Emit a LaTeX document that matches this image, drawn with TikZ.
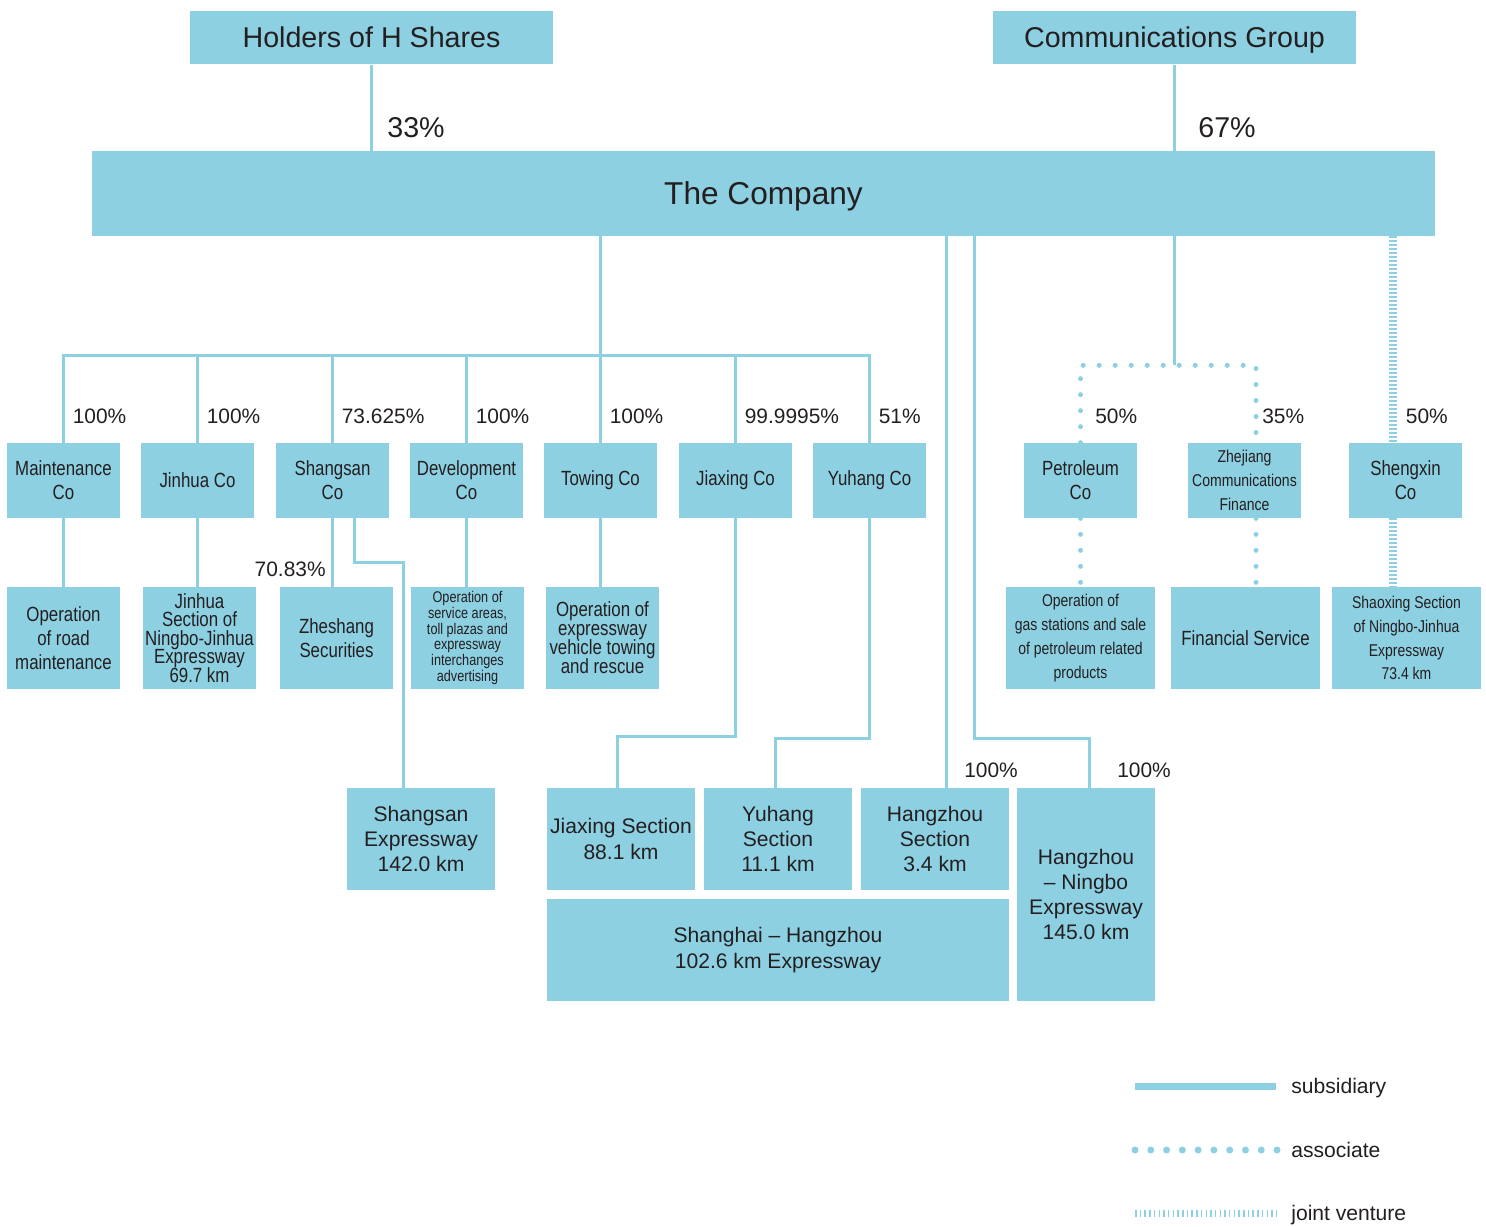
\documentclass[tikz,border=0pt]{standalone}
\usepackage{fontspec}
\setmainfont{Liberation Sans}
\newfontfamily\narrowfont[FakeStretch=0.82]{Liberation Sans}
\usetikzlibrary{calc}
\lineskiplimit=-100pt
\definecolor{boxblue}{RGB}{141,208,226}
\definecolor{inkgray}{RGB}{35,31,32}
\tikzstyle{box}=[rectangle,fill=boxblue,inner sep=0pt,align=center,text=inkgray]
\tikzstyle{topbox}=[box,minimum width=7.26cm,minimum height=1.08cm,text height=11.7pt,text depth=0pt,font=\fontsize{16.3}{19}\selectfont]
\tikzstyle{cobox}=[box,minimum width=2.26cm,minimum height=1.5cm,font=\narrowfont\fontsize{11.7}{13.6}\selectfont]
\tikzstyle{opbox}=[box,minimum width=2.26cm,minimum height=2.04cm,font=\narrowfont\fontsize{11.7}{13.6}\selectfont]
\tikzstyle{widebox}=[box,minimum width=2.98cm,minimum height=2.04cm,font=\narrowfont\fontsize{9.7}{13.6}\selectfont]
\tikzstyle{roadbox}=[box,minimum width=2.96cm,minimum height=2.04cm,font=\fontsize{12}{14.3}\selectfont]
\tikzstyle{share}=[anchor=west,inner sep=0pt,text=inkgray,font=\fontsize{11.9}{14}\selectfont]
\tikzstyle{bigshare}=[share,font=\fontsize{16.3}{19}\selectfont]
\tikzstyle{legendtext}=[anchor=base west,inner sep=0pt,text=inkgray,font=\fontsize{12}{14}\selectfont]
\tikzstyle{subline}=[draw=boxblue,line width=0.06cm]
\tikzstyle{assocline}=[draw=boxblue,line width=0.1cm,line cap=round,dash pattern=on 0pt off 0.32cm]
\tikzstyle{jvline}=[draw=boxblue,line width=0.16cm,dash pattern=on 0.04cm off 0.04cm]

\begin{document}
\begin{tikzpicture}[x=0.02cm,y=-0.02cm]
\useasboundingbox (0,0) rectangle (1486,1226);

% Owners and the company
\node[topbox] (holders) at (371.5,37.5) {Holders of H Shares};
\node[topbox] (commgrp) at (1174.5,37.5) {Communications Group};
\node[box,minimum width=26.86cm,minimum height=1.7cm,text height=12.9pt,text depth=0pt,font=\fontsize{18}{21}\selectfont] (company) at (763.5,193.5) {The Company};

\path[subline] (holders) -- (holders |- company.north);
\path[subline] (commgrp) -- (commgrp |- company.north);
\node[bigshare] (p-holders) at (387,128) {33\%};
\node[bigshare] (p-commgrp) at (1198,128) {67\%};

%layer 1
\def\ya{480.5}
\foreach \pos/\name/\txt in {{63.5/maint/Maintenance\\Co}, {197.5/jinhua/Jinhua Co}, {332.5/shangsan/Shangsan\\Co},
    {466.5/devel/Development\\Co}, {600.5/towing/Towing Co}, {735.5/jiaxing/Jiaxing Co}, {869.5/yuhang/Yuhang Co},
    {1080.5/petro/Petroleum\\Co}, {1405.5/shengxin/Shengxin\\Co}}
    \node[cobox] (\name) at (\pos,\ya) {\txt};
\node[cobox,font=\narrowfont\fontsize{9.75}{13.6}\selectfont] (zjfin) at (1244.5,\ya) {Zhejiang\\Communications\\Finance};

%layer 2
\def\yb{638}
\node[opbox] (roadop) at (63.5,\yb) {Operation\\of road\\maintenance};
\node[opbox,font=\narrowfont\fontsize{11.7}{10.6}\selectfont] (jhsec) at (199.5,\yb) {Jinhua\\Section of\\Ningbo-Jinhua\\Expressway\\69.7 km};
\node[opbox] (zheshang) at (336.5,\yb) {Zheshang\\Securities};
\node[opbox,font=\narrowfont\fontsize{8.8}{9.07}\selectfont] (servop) at (467.5,\yb) {Operation of\\service areas,\\toll plazas and\\expressway\\interchanges\\advertising};
\node[opbox,font=\narrowfont\fontsize{11.7}{10.8}\selectfont] (towop) at (602.5,\yb) {Operation of\\expressway\\vehicle towing\\and rescue};
\node[widebox] (gasop) at (1080.5,\yb) {Operation of\\gas stations and sale\\of petroleum related\\products};
\node[widebox,font=\narrowfont\fontsize{11.7}{13.6}\selectfont] (finserv) at (1245.5,\yb) {Financial Service};
\node[widebox] (shaoxing) at (1406.5,\yb) {Shaoxing Section\\of Ningbo-Jinhua\\Expressway\\73.4 km};

%layer 3
\def\yc{839}
\node[roadbox] (ssexp) at (421,\yc) {Shangsan\\Expressway\\142.0 km};
\node[roadbox] (jxsec) at (621,\yc) {Jiaxing Section\\88.1 km};
\node[roadbox] (yhsec) at (778,\yc) {Yuhang\\Section\\11.1 km};
\node[roadbox] (hzsec) at (935,\yc) {Hangzhou\\Section\\3.4 km};
\node[roadbox,minimum width=2.76cm,minimum height=4.26cm] (hnexp) at (1086,894.5) {Hangzhou\\-- Ningbo\\Expressway\\145.0 km};
\node[roadbox,minimum width=9.24cm] (shhz) at (778,950) {Shanghai -- Hangzhou\\102.6 km Expressway};

% Edges
    % subsidiaries bus
\coordinate (bus) at (600,355);
\path[subline] (company.south -| bus) -- (bus);
\path[subline] (maint.north) |- (bus) -| (yuhang.north);
\foreach \name in {jinhua,shangsan,devel,towing,jiaxing}
    \path[subline] (bus -| \name) -- (\name.north);
\foreach \name/\pct in {maint/100\%, jinhua/100\%, shangsan/73.625\%, devel/100\%, towing/100\%, jiaxing/99.9995\%, yuhang/51\%}
    \node[share] (p-\name) at ($(\name.north)+(9,-26)$) {\pct};

    % layer 1 to layer 2
\foreach \up/\down in {maint/roadop, jinhua/jhsec, shangsan/zheshang, devel/servop, towing/towop}
    \path[subline] (\up.south) -- (\up.south |- \down.north);
\node[share,anchor=east] (p-zheshang) at ($(zheshang.north)+(-10.5,-17)$) {70.83\%};

    % down to the expressways
\path[subline] ($(shangsan.south)+(22,0)$) -- ++(0,44) -| ($(ssexp.north)+(-18,0)$);
\path[subline] (jiaxing.south) -- ++(0,218) -| ($(jxsec.north)+(-4,0)$);
\path[subline] (yuhang.south) -- ++(0,220) -| ($(yhsec.north)+(-3,0)$);
\coordinate (hzdrop) at ($(hzsec.north)+(11,0)$);
\path[subline] (company.south -| hzdrop) -- (hzdrop);
\path[subline] (company.south -| hzdrop) ++(28,0) -- ++(0,502) -| ($(hnexp.north)+(3,0)$);
\node[share] (p-hzsec) at ($(hzdrop)+(18,-17)$) {100\%};
\node[share] (p-hnexp) at ($(hnexp.north)+(31,-17)$) {100\%};

    % associates
\coordinate (zjdrop) at ($(zjfin.north)+(11.5,0)$);
\path[subline] (company.south -| commgrp) -- ++(0,129) coordinate (assoc);
\path[assocline] (petro.north) |- (assoc) -| (zjdrop);
\path[assocline] (petro.south) -- (petro.south |- gasop.north);
\path[assocline] (zjfin.south -| zjdrop) -- (finserv.north -| zjdrop);
\node[share] (p-petro) at ($(petro.north)+(14.5,-26)$) {50\%};
\node[share] (p-zjfin) at ($(zjdrop)+(6,-26)$) {35\%};

    % joint venture
\coordinate (jvdrop) at ($(shengxin.north)+(-12.5,0)$);
\path[jvline] (company.south -| jvdrop) -- (jvdrop);
\path[jvline] (shengxin.south -| jvdrop) -- (shaoxing.north -| jvdrop);
\node[share] (p-shengxin) at ($(shengxin.north)+(0,-26)$) {50\%};

% Legend
\node[legendtext] (lsub) at (1291,1093) {subsidiary};
\node[legendtext] (lassoc) at (1291,1157) {associate};
\node[legendtext] (ljv) at (1291,1220) {joint venture};
\path[subline,line width=0.14cm] ($(lsub.base west)+(-156,-7)$) -- ($(lsub.base west)+(-15,-7)$);
\path[assocline,line width=0.14cm,dash pattern=on 0pt off 0.3156cm] ($(lassoc.base west)+(-156,-7)$) -- ($(lassoc.base west)+(-13.5,-7)$);
\path[jvline,line width=0.14cm,dash pattern=on 0.03cm off 0.064cm] ($(ljv.base west)+(-156,-6.5)$) -- ($(ljv.base west)+(-15,-6.5)$);

\end{tikzpicture}
\end{document}
